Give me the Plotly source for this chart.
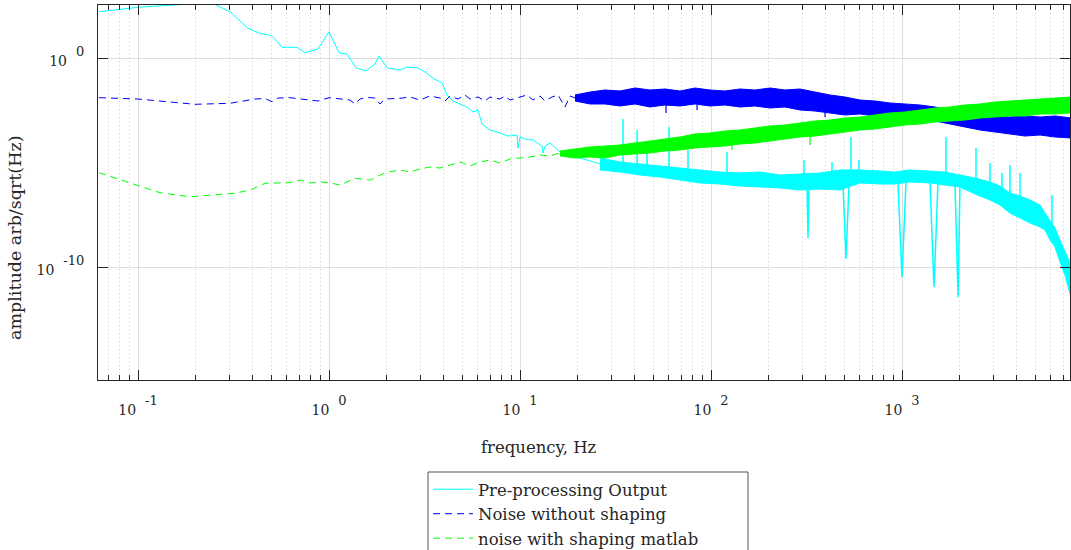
import plotly.graph_objects as go

# ---------------- data ----------------
# Pre-processing Output (cyan) - low-frequency line part
cyan_f = [0.0625, 0.1, 0.1988, 0.247, 0.3032, 0.3765, 0.4352, 0.5029, 0.5675, 0.6803,
          0.7487, 0.8758, 1.0, 1.128, 1.242, 1.385, 1.562, 1.741, 1.828, 2.012,
          2.353, 2.561, 2.924, 3.183, 3.503, 3.906, 4.149, 4.459, 4.852, 5.278,
          5.675, 6.028, 6.324, 6.964, 7.859, 8.654, 9.645, 9.761, 10.0, 10.62,
          11.70, 13.04, 13.20, 13.52, 14.36, 16.20, 17.62, 19.41, 22.43, 26.24]
cyan_amp = [164, 267, 400, 400, 164, 26.4, 15.2, 11.7, 3.25, 3.25,
            1.79, 2.70, 18.0, 1.79, 1.55, 0.343, 0.239, 0.516, 1.25, 0.343,
            0.267, 0.371, 0.333, 0.214, 0.110, 0.0637, 0.0170, 0.00876, 0.00630, 0.00452,
            0.00261, 0.00325, 6.95e-4, 3.59e-4, 2.58e-4, 1.85e-4, 2.07e-4, 4.94e-5, 1.66e-4, 1.33e-4,
            1.19e-4, 6.16e-5, 2.85e-5, 6.16e-5, 8.57e-5, 3.18e-5, 2.28e-5, 1.83e-5, 1.32e-5, 8.48e-6]

# cyan dense noise band: upper / lower envelope
cyan_band_f = [26.24, 33.39, 42.51, 54.08, 68.82, 87.60, 111.4, 141.9, 180.5, 229.8,
               292.4, 372.2, 473.6, 602.8, 767.2, 919.0, 1101, 1402, 1680, 2012,
               2412, 2888, 3260, 3676, 4148, 4680, 5280, 5607, 5956, 6324,
               6718, 7136, 7673]
cyan_band_hi = [1.64e-5, 1.06e-5, 8.48e-6, 6.80e-6, 5.45e-6, 4.38e-6, 3.51e-6, 3.15e-6, 3.51e-6, 2.52e-6,
                2.82e-6, 3.15e-6, 4.38e-6, 4.38e-6, 3.92e-6, 3.51e-6, 4.38e-6, 3.92e-6, 3.51e-6, 2.52e-6,
                1.81e-6, 1.17e-6, 7.51e-7, 3.47e-7, 2.49e-7, 1.61e-7, 9.26e-8, 3.84e-8, 1.77e-8, 7.35e-9,
                1.96e-9, 5.22e-10, 1.25e-10]
cyan_band_lo = [4.38e-6, 3.51e-6, 2.52e-6, 2.02e-6, 1.45e-6, 1.05e-6, 9.36e-7, 7.51e-7, 6.73e-7, 6.02e-7,
                4.83e-7, 5.40e-7, 4.83e-7, 1.05e-6, 9.36e-7, 9.36e-7, 1.17e-6, 1.05e-6, 8.38e-7, 6.73e-7,
                3.11e-7, 1.61e-7, 9.26e-8, 3.84e-8, 2.21e-8, 1.27e-8, 8.20e-9, 5.89e-9, 1.96e-9, 9.06e-10,
                1.73e-10, 4.14e-11, 3.29e-12]

# cyan upward spikes (frequency, peak, band level)
cyan_spike_f = [34.62, 41.01, 46.24, 60.28, 75.80, 121.3, 306.9, 430.1, 540.7, 595.6,
                1700, 2440, 2888, 3339, 3676, 4148, 6100]
cyan_spike_top = [1.21e-3, 3.59e-4, 5.52e-5, 5.00e-4, 3.96e-5, 3.18e-5, 1.32e-5, 1.06e-5, 1.66e-4, 1.32e-5,
                  1.66e-4, 4.94e-5, 9.47e-6, 3.15e-6, 7.59e-6, 3.15e-6, 2.79e-7]
cyan_spike_base = [6.09e-6, 5.45e-6, 4.38e-6, 3.51e-6, 2.52e-6, 1.81e-6, 1.45e-6, 1.81e-6, 2.26e-6, 2.26e-6,
                   1.81e-6, 1.05e-6, 4.83e-7, 2.79e-7, 1.61e-7, 9.26e-8, 3.40e-9]

# cyan notches (left edge, centre, right edge frequency; depth; band level)
cyan_dip_left = [318.2, 491.1, 953.0, 1402, 1895]
cyan_dip_f = [322.0, 509.1, 1000, 1471, 1965]
cyan_dip_right = [326.0, 527.8, 1049, 1543, 2012]
cyan_dip_min = [2.44e-9, 2.41e-10, 3.32e-11, 1.10e-11, 3.67e-12]
cyan_dip_base = [8.38e-7, 8.38e-7, 1.05e-6, 1.05e-6, 8.38e-7]

# Noise without shaping (blue, dashed)
blue_f = [0.0625, 0.1, 0.1988, 0.3032, 0.4099, 0.4624, 0.5029, 0.5408, 0.6249, 0.7487,
          0.8758, 1.0, 1.142, 1.288, 1.368, 1.453, 1.581, 1.741, 1.849, 1.964,
          2.216, 2.353, 2.656, 2.995, 3.380, 3.813, 4.050, 4.300, 4.736, 5.152,
          5.473, 6.028, 6.557, 6.964, 7.859, 8.347, 8.865, 10.0, 10.88, 11.70,
          12.73, 13.52, 14.71, 15.81, 17.20, 18.27, 20.12]
blue_amp = [1.26e-2, 1.09e-2, 6.09e-3, 6.80e-3, 1.09e-2, 1.15e-2, 8.11e-3, 1.22e-2, 1.26e-2, 1.03e-2,
            8.76e-3, 1.26e-2, 1.09e-2, 9.78e-3, 6.30e-3, 1.09e-2, 1.29e-2, 1.22e-2, 6.30e-3, 1.09e-2,
            1.15e-2, 1.18e-2, 1.36e-2, 9.78e-3, 1.52e-2, 1.22e-2, 8.76e-3, 1.52e-2, 1.09e-2, 1.70e-2,
            1.09e-2, 1.36e-2, 8.76e-3, 1.36e-2, 1.09e-2, 1.52e-2, 9.78e-3, 1.36e-2, 1.70e-2, 9.78e-3,
            1.52e-2, 8.76e-3, 1.36e-2, 1.70e-2, 4.52e-3, 1.52e-2, 1.09e-2]
blue_band_f = [19.41, 23.26, 27.86, 33.39, 40.02, 47.92, 57.43, 68.82, 82.46, 98.80,
               118.4, 141.9, 169.9, 203.7, 244.0, 292.4, 350.4, 419.8, 503.0, 602.8,
               722.3, 865.5, 1037, 1243, 1489, 1784, 2137, 2561, 3069, 3676,
               4406, 5280, 6324, 7673]
blue_band_hi = [1.70e-2, 2.36e-2, 2.94e-2, 2.64e-2, 3.67e-2, 2.94e-2, 3.29e-2, 2.64e-2, 3.67e-2, 2.94e-2,
                2.64e-2, 3.29e-2, 2.94e-2, 3.67e-2, 2.94e-2, 3.29e-2, 2.36e-2, 1.70e-2, 1.36e-2, 9.78e-3,
                8.76e-3, 7.03e-3, 6.30e-3, 5.64e-3, 4.52e-3, 3.25e-3, 2.61e-3, 2.09e-3, 1.68e-3, 1.50e-3,
                1.68e-3, 1.50e-3, 1.68e-3, 1.35e-3]
blue_band_lo = [8.76e-3, 6.30e-3, 6.30e-3, 5.05e-3, 6.30e-3, 4.52e-3, 5.64e-3, 5.05e-3, 6.30e-3, 5.05e-3,
                5.64e-3, 4.52e-3, 5.05e-3, 4.05e-3, 4.52e-3, 3.25e-3, 2.91e-3, 2.34e-3, 1.87e-3, 2.09e-3,
                1.68e-3, 1.87e-3, 1.50e-3, 1.21e-3, 9.67e-4, 6.95e-4, 5.00e-4, 3.59e-4, 2.88e-4, 2.31e-4,
                1.85e-4, 2.07e-4, 1.66e-4, 1.49e-4]
# blue downward spikes (frequency, tip, band level)
blue_spike_f = [58.13, 84.5, 395.4]
blue_spike_tip = [2.34e-3, 3.25e-3, 1.50e-3]
blue_spike_base = [5.64e-3, 5.64e-3, 2.61e-3]

# noise with shaping matlab (green, dashed)
green_f = [0.0625, 0.1, 0.1304, 0.1872, 0.3221, 0.3858, 0.4624, 0.6249, 0.7050, 0.7952,
           0.8973, 1.0, 1.142, 1.368, 1.640, 1.964, 2.353, 2.656, 2.995, 3.380,
           3.813, 4.300, 4.852, 5.473, 6.175, 6.964, 7.859, 8.865, 10.0, 11.28,
           12.73, 14.36, 16.20]
green_amp = [3.25e-6, 8.38e-7, 3.59e-7, 2.31e-7, 3.36e-7, 4.83e-7, 1.01e-6, 1.08e-6, 1.45e-6, 1.05e-6,
             1.17e-6, 1.08e-6, 8.38e-7, 1.75e-6, 1.45e-6, 3.25e-6, 4.38e-6, 3.51e-6, 4.89e-6, 6.09e-6,
             5.45e-6, 7.59e-6, 1.06e-5, 6.80e-6, 1.06e-5, 1.32e-5, 9.47e-6, 1.47e-5, 1.64e-5, 1.83e-5,
             2.29e-5, 2.05e-5, 2.85e-5]
green_band_f = [16.20, 19.41, 23.26, 27.86, 33.39, 40.02, 47.92, 57.43, 68.82, 82.46,
                98.80, 118.4, 141.9, 169.9, 203.7, 244.0, 292.4, 350.4, 419.8, 503.0,
                602.8, 722.3, 865.5, 1037, 1243, 1489, 1784, 2137, 2561, 3069,
                3676, 4406, 5280, 6324, 7673]
green_band_hi = [3.55e-5, 4.42e-5, 5.52e-5, 6.16e-5, 6.87e-5, 8.57e-5, 1.07e-4, 1.33e-4, 1.66e-4, 2.31e-4,
                 2.58e-4, 3.21e-4, 3.59e-4, 4.47e-4, 5.58e-4, 6.23e-4, 7.76e-4, 9.67e-4, 1.08e-3, 1.35e-3,
                 1.50e-3, 1.87e-3, 2.34e-3, 2.61e-3, 3.25e-3, 4.05e-3, 4.52e-3, 5.64e-3, 6.30e-3, 7.85e-3,
                 8.76e-3, 9.78e-3, 1.09e-2, 1.22e-2, 1.36e-2]
green_band_lo = [2.05e-5, 1.64e-5, 1.83e-5, 1.64e-5, 2.29e-5, 2.55e-5, 2.85e-5, 3.55e-5, 3.96e-5, 4.94e-5,
                 5.52e-5, 6.16e-5, 7.67e-5, 8.57e-5, 1.07e-4, 1.33e-4, 1.66e-4, 1.85e-4, 2.31e-4, 2.88e-4,
                 3.59e-4, 4.01e-4, 5.00e-4, 6.23e-4, 6.95e-4, 8.66e-4, 9.67e-4, 1.08e-3, 1.35e-3, 1.50e-3,
                 1.68e-3, 1.68e-3, 2.09e-3, 2.09e-3, 2.34e-3]
# green downward spikes (frequency, tip, band level)
green_spike_f = [128.8, 329.9]
green_spike_tip = [3.96e-5, 6.87e-5]
green_spike_base = [6.87e-5, 1.66e-4]

series_names = ["Pre-processing Output", "Noise without shaping", "noise with shaping matlab"]
x_tick_vals = [0.1, 1, 10, 100, 1000]
x_tick_exp = ["-1", "0", "1", "2", "3"]
y_tick_vals = [1e-10, 1]
y_tick_exp = ["-10", "0"]
x_minor_vals = [m * d for d in [0.01, 0.1, 1, 10, 100, 1000] for m in range(2, 10)]

CYAN = "#00ffff"
BLUE = "#0000ff"
GREEN = "#00ff00"
AX = "#262626"
DASH = "7px,5px"
FONT = "DejaVu Serif"

fig = go.Figure()

def band(fx, hi, lo, color):
    return go.Scatter(x=list(fx) + list(fx[::-1]), y=list(hi) + list(lo[::-1]),
                      mode="lines", fill="toself", fillcolor=color,
                      line=dict(color=color, width=1), showlegend=False, hoverinfo="skip")

def spikes(fs, tips, bases, color, width=1.5):
    xs, ys = [], []
    for f, t, b in zip(fs, tips, bases):
        xs += [f, f, None]
        ys += [b, t, None]
    return go.Scatter(x=xs, y=ys, mode="lines", line=dict(color=color, width=width),
                      showlegend=False, hoverinfo="skip")

# cyan
fig.add_trace(go.Scatter(x=cyan_f, y=cyan_amp, mode="lines", name=series_names[0],
                         line=dict(color=CYAN, width=1), legendgroup="a"))
fig.add_trace(band(cyan_band_f, cyan_band_hi, cyan_band_lo, CYAN))
fig.add_trace(spikes(cyan_spike_f, cyan_spike_top, cyan_spike_base, CYAN))
dx, dy = [], []
for l, c, r, m, b in zip(cyan_dip_left, cyan_dip_f, cyan_dip_right, cyan_dip_min, cyan_dip_base):
    dx += [l, c, r, None]
    dy += [b, m, b, None]
fig.add_trace(go.Scatter(x=dx, y=dy, mode="lines", line=dict(color=CYAN, width=1.5),
                         showlegend=False, hoverinfo="skip"))

# blue
fig.add_trace(go.Scatter(x=blue_f, y=blue_amp, mode="lines", name=series_names[1],
                         line=dict(color=BLUE, width=1, dash=DASH), legendgroup="b"))
fig.add_trace(band(blue_band_f, blue_band_hi, blue_band_lo, BLUE))
fig.add_trace(spikes(blue_spike_f, blue_spike_tip, blue_spike_base, BLUE, 1.2))

# green
fig.add_trace(go.Scatter(x=green_f, y=green_amp, mode="lines", name=series_names[2],
                         line=dict(color=GREEN, width=1, dash=DASH), legendgroup="c"))
fig.add_trace(band(green_band_f, green_band_hi, green_band_lo, GREEN))
fig.add_trace(spikes(green_spike_f, green_spike_tip, green_spike_base, GREEN, 1.2))

def tick_text(e):
    return ("<span style='font-size:14px'>10\u00a0\u00a0</span>"
            "<sup><span style='font-size:13px'>" + e + "</span></sup>")

W, H = 1071, 550
L, R, T, B = 98, 1, 5, 170
PW, PH = W - L - R, H - T - B

def px_x(p):
    return (p - L) / PW

def px_y(p):
    return (H - B - p) / PH

fig.update_layout(
    width=W, height=H, autosize=False,
    margin=dict(l=L, r=R, t=T, b=B, autoexpand=False),
    paper_bgcolor="white", plot_bgcolor="white",
    font=dict(family=FONT, size=14, color=AX),
    showlegend=True,
    legend=dict(xref="container", yref="container",
                x=428 / W, y=1 - 472 / H,
                xanchor="left", yanchor="top",
                bgcolor="rgba(0,0,0,0)", borderwidth=0,
                font=dict(family=FONT, size=16.5, color=AX),
                itemwidth=40, tracegroupgap=0),
    shapes=[dict(type="rect", xref="paper", yref="paper",
                 x0=px_x(428), x1=px_x(748), y0=px_y(472), y1=px_y(600),
                 line=dict(color="#555555", width=1), fillcolor="white", layer="above")],
    xaxis=dict(type="log", range=[-1.2094, 3.8796],
               tickmode="array", tickvals=x_tick_vals,
               ticktext=[tick_text(e) for e in x_tick_exp],
               tickfont=dict(family=FONT, size=24, color=AX),
               ticks="inside", ticklen=10, tickcolor=AX, tickwidth=1,
               ticklabelstandoff=5,
               showline=True, linecolor=AX, linewidth=1, mirror="ticks",
               showgrid=True, gridcolor="#dedede", gridwidth=1,
               minor=dict(tickmode="array", tickvals=x_minor_vals, ticks="inside",
                          ticklen=5, tickcolor=AX, showgrid=True,
                          gridcolor="#cfcfcf", griddash="1px,3px", gridwidth=1),
               zeroline=False),
    yaxis=dict(type="log", range=[-15.407, 2.536],
               tickmode="array", tickvals=y_tick_vals,
               ticktext=[tick_text(e) for e in y_tick_exp],
               tickfont=dict(family=FONT, size=24, color=AX),
               ticks="inside", ticklen=10, tickcolor=AX, tickwidth=1,
               ticklabelstandoff=8,
               showline=True, linecolor=AX, linewidth=1, mirror="ticks",
               showgrid=True, gridcolor="#dedede", gridwidth=1,
               zeroline=False),
    annotations=[
        dict(text="frequency, Hz", xref="paper", yref="paper",
             x=px_x(539), y=px_y(447),
             xanchor="center", yanchor="middle", showarrow=False,
             font=dict(family=FONT, size=16.5, color=AX)),
        dict(text="amplitude arb/sqrt(Hz)", xref="paper", yref="paper",
             x=px_x(15), y=px_y(238),
             xanchor="center", yanchor="middle", showarrow=False, textangle=-90,
             font=dict(family=FONT, size=17.5, color=AX)),
    ],
)

fig.write_html("out.html", config={"displayModeBar": False},
               post_script="document.body.style.margin='0';")
